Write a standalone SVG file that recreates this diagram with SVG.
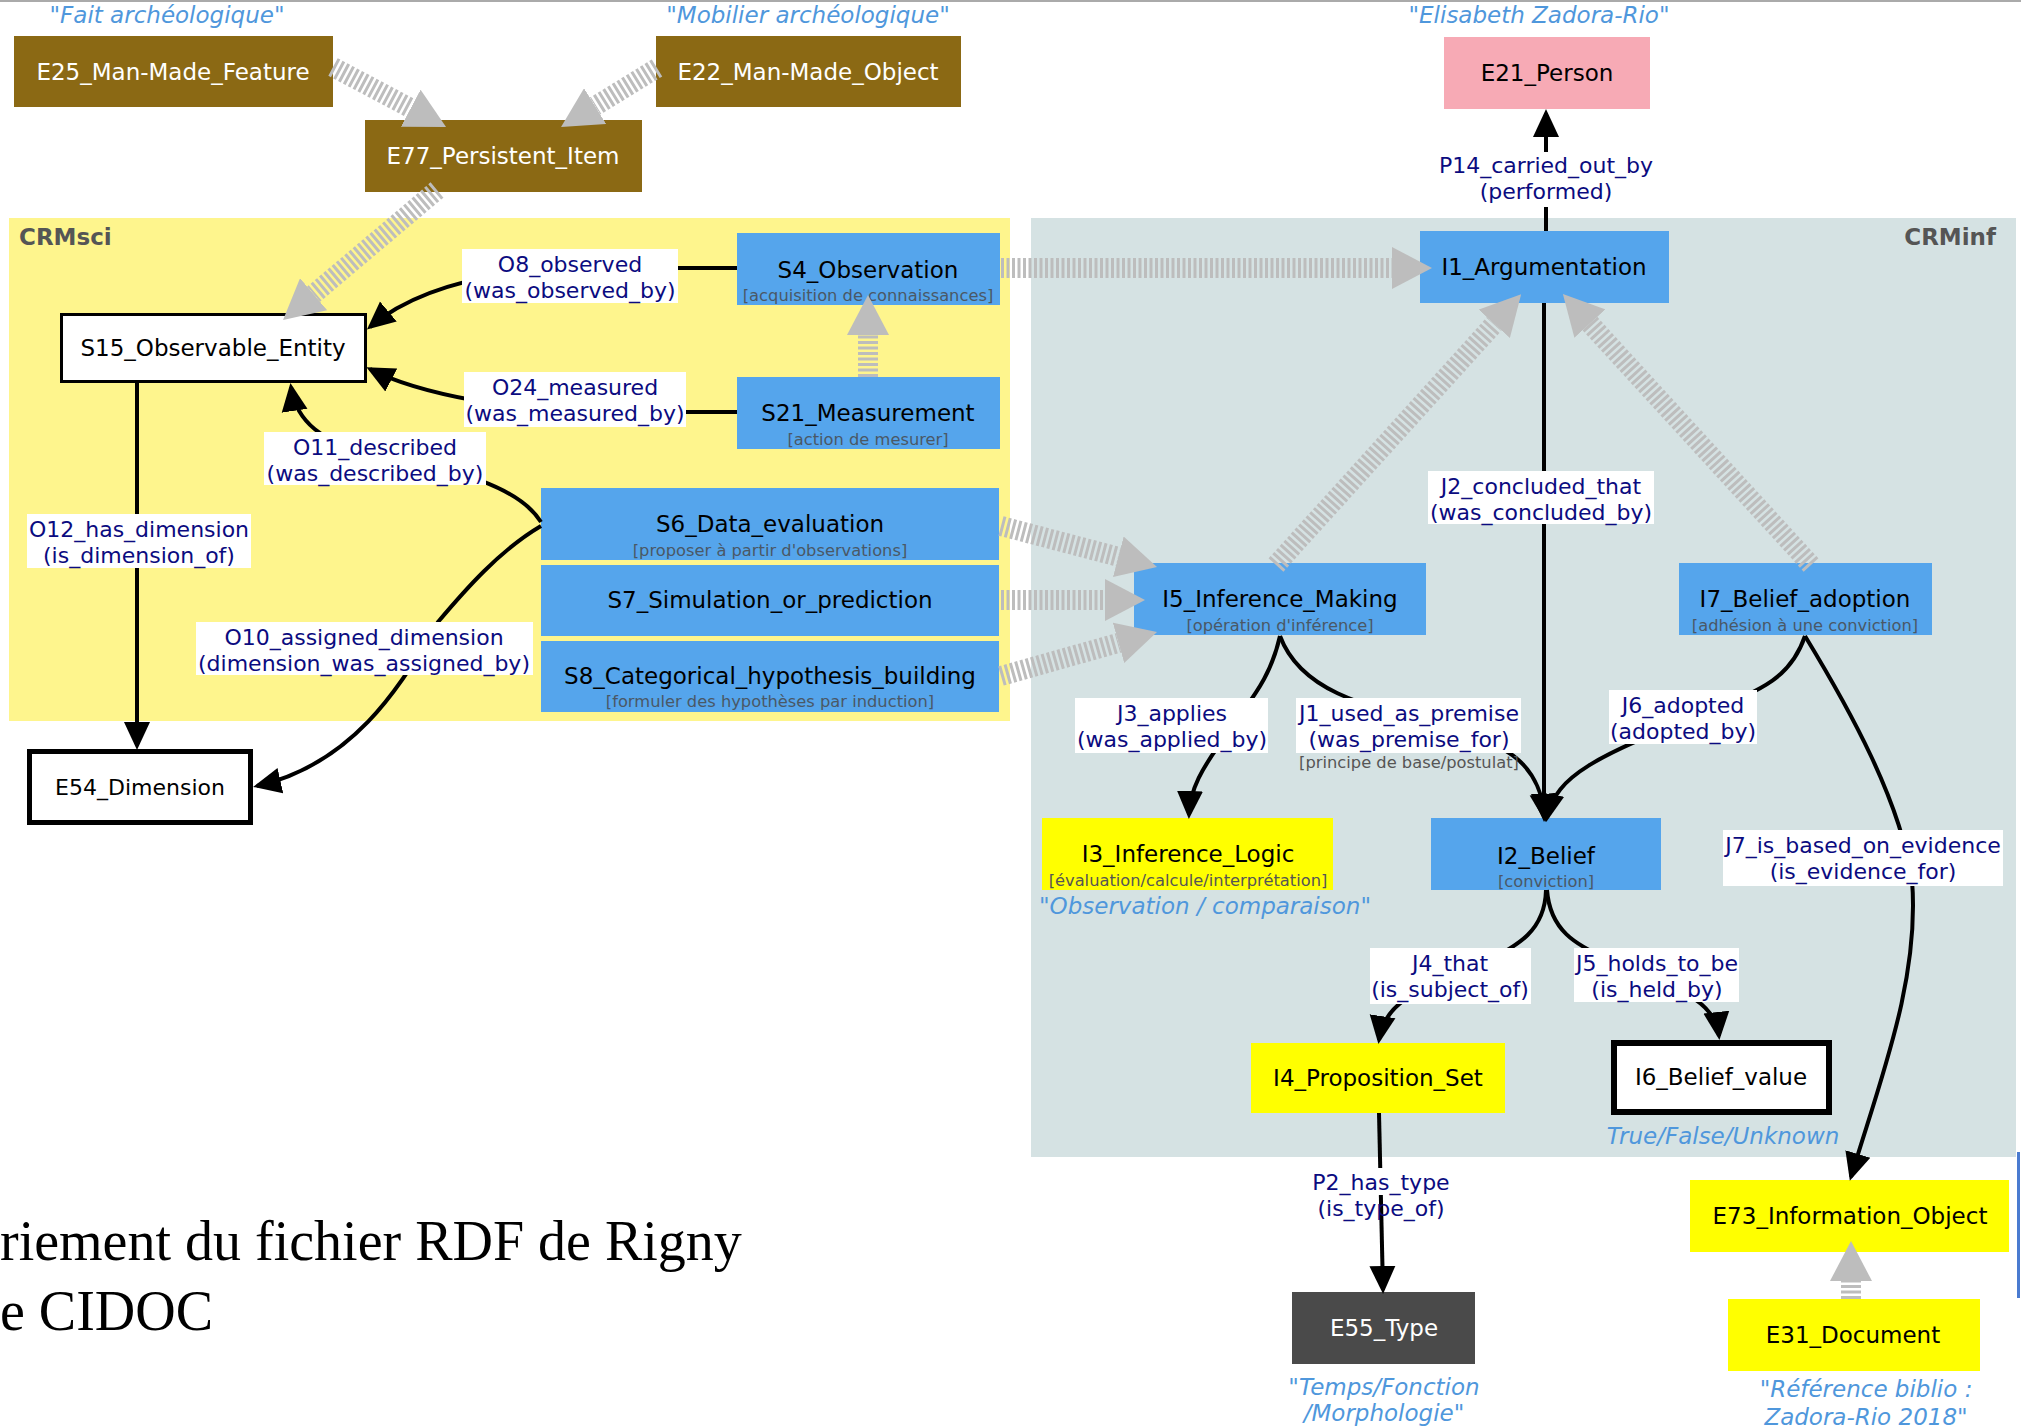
<svg xmlns="http://www.w3.org/2000/svg" width="2021" height="1428" viewBox="0 0 2021 1428">
<style>
text{font-family:"DejaVu Sans","Liberation Sans",sans-serif}
.nt{font-size:23px;text-anchor:middle;fill:#000}
.wt{font-size:23px;text-anchor:middle;fill:#fff}
.sub{font-size:16.3px;text-anchor:middle;fill:#4a5866}
.subg{font-size:16.3px;text-anchor:middle;fill:#555}
.lb{font-size:22px;text-anchor:middle;fill:#0b0b80}
.an{font-size:23px;font-style:italic;text-anchor:middle;fill:#4f97dc}
.cl{font-size:23px;font-weight:bold;fill:#555}
.lbg{fill:#fff}
.blue{fill:#55a5ec}
.brown{fill:#8b6914}
.yel{fill:#ffff00}
.e{fill:none;stroke:#000;stroke-width:4;marker-end:url(#ah)}
.g{fill:none;stroke:#bdbdbd;stroke-width:20;stroke-dasharray:3 2.5;marker-end:url(#gh)}
</style>
<defs>
<marker id="ah" markerUnits="userSpaceOnUse" markerWidth="28" markerHeight="28" viewBox="0 0 28 28" refX="24" refY="14" orient="auto"><path d="M0,1 L28,14 L0,27 z" fill="#000"/></marker>
<marker id="gh" markerUnits="userSpaceOnUse" markerWidth="40" markerHeight="42" viewBox="0 0 40 42" refX="0" refY="21" orient="auto"><path d="M0,0 L40,21 L0,42 z" fill="#bdbdbd"/></marker>
</defs>
<rect x="0" y="0" width="2021" height="1428" fill="#fff"/>
<rect x="0" y="0" width="2021" height="2" fill="#aaa"/>
<rect x="2017" y="1152" width="3" height="146" fill="#4a7bd0"/>

<g id="cluster-crmsci">
<rect x="9" y="218" width="1001" height="503" fill="#fef58d"/>
<text class="cl" x="19" y="245">CRMsci</text>
</g>
<g id="cluster-crminf">
<rect x="1031" y="218" width="985" height="939" fill="#d5e2e3"/>
<text class="cl" x="1996" y="245" text-anchor="end">CRMinf</text>
</g>

<g id="E25"><rect class="brown" x="14" y="36" width="319" height="71"/><text class="wt" x="173" y="80">E25_Man-Made_Feature</text></g>
<g id="E22"><rect class="brown" x="656" y="36" width="305" height="71"/><text class="wt" x="808" y="80">E22_Man-Made_Object</text></g>
<g id="E77"><rect class="brown" x="365" y="120" width="277" height="72"/><text class="wt" x="503" y="164">E77_Persistent_Item</text></g>
<g id="E21"><rect x="1444" y="37" width="206" height="72" fill="#f7aab5"/><text class="nt" x="1547" y="81">E21_Person</text></g>
<g id="S15"><rect x="61.5" y="314.5" width="304" height="67" fill="#fff" stroke="#000" stroke-width="3"/><text class="nt" x="213" y="356">S15_Observable_Entity</text></g>
<g id="S4"><rect class="blue" x="737" y="233" width="263" height="72"/><text class="nt" x="868" y="278">S4_Observation</text><text class="sub" x="868" y="301">[acquisition de connaissances]</text></g>
<g id="S21"><rect class="blue" x="737" y="377" width="263" height="72"/><text class="nt" x="868" y="421">S21_Measurement</text><text class="sub" x="868" y="445">[action de mesurer]</text></g>
<g id="S6"><rect class="blue" x="541" y="488" width="458" height="72"/><text class="nt" x="770" y="532">S6_Data_evaluation</text><text class="sub" x="770" y="556">[proposer à partir d'observations]</text></g>
<g id="S7"><rect class="blue" x="541" y="565" width="458" height="71"/><text class="nt" x="770" y="608">S7_Simulation_or_prediction</text></g>
<g id="S8"><rect class="blue" x="541" y="641" width="458" height="71"/><text class="nt" x="770" y="684">S8_Categorical_hypothesis_building</text><text class="sub" x="770" y="707">[formuler des hypothèses par induction]</text></g>
<g id="E54"><rect x="29.5" y="751.5" width="221" height="71" fill="#fff" stroke="#000" stroke-width="5"/><text class="nt" x="140" y="795" style="font-size:22px">E54_Dimension</text></g>
<g id="I1"><rect class="blue" x="1420" y="231" width="249" height="72"/><text class="nt" x="1544" y="275">I1_Argumentation</text></g>
<g id="I5"><rect class="blue" x="1134" y="563" width="292" height="72"/><text class="nt" x="1280" y="607">I5_Inference_Making</text><text class="sub" x="1280" y="631">[opération d'inférence]</text></g>
<g id="I7"><rect class="blue" x="1679" y="563" width="253" height="72"/><text class="nt" x="1805" y="607">I7_Belief_adoption</text><text class="sub" x="1805" y="631">[adhésion à une conviction]</text></g>
<g id="I3"><rect class="yel" x="1042" y="818" width="291" height="72"/><text class="nt" x="1188" y="862">I3_Inference_Logic</text><text class="subg" x="1188" y="886">[évaluation/calcule/interprétation]</text></g>
<g id="I2"><rect class="blue" x="1431" y="818" width="230" height="72"/><text class="nt" x="1546" y="864">I2_Belief</text><text class="sub" x="1546" y="887">[conviction]</text></g>
<g id="I4"><rect class="yel" x="1251" y="1043" width="254" height="70"/><text class="nt" x="1378" y="1086">I4_Proposition_Set</text></g>
<g id="I6"><rect x="1614" y="1043" width="215" height="69" fill="#fff" stroke="#000" stroke-width="6"/><text class="nt" x="1721" y="1085">I6_Belief_value</text></g>
<g id="E73"><rect class="yel" x="1690" y="1180" width="319" height="72"/><text class="nt" x="1850" y="1224">E73_Information_Object</text></g>
<g id="E31"><rect class="yel" x="1728" y="1299" width="252" height="72"/><text class="nt" x="1853" y="1343">E31_Document</text></g>
<g id="E55"><rect x="1292" y="1292" width="183" height="72" fill="#4a4a4a"/><text class="wt" x="1384" y="1336">E55_Type</text></g>

<g id="connectors">
<path class="g" d="M333,67 L410.7,108.2"/>
<path class="g" d="M657,68 L595.1,106.1"/>
<path class="g" d="M437,190 L313.6,294.2"/>
<path class="g" d="M1001,268 L1392,268"/>
<path class="g" d="M868,377 L868,335"/>
<path class="g" d="M1001,526 L1118.3,556.8"/>
<path class="g" d="M1001,600 L1105,600"/>
<path class="g" d="M1001,676 L1118.5,642.8"/>
<path class="g" d="M1276,565 L1494.3,323.8"/>
<path class="g" d="M1811,565 L1589.9,323.6"/>
<path class="g" d="M1851,1299 L1851,1281"/>

<path class="e" d="M1546,231 L1546,113"/>
<path class="e" d="M737,268 L600,268 C500,268 420,285 370,327"/>
<path class="e" d="M737,412 L600,412 C520,412 420,395 370,369"/>
<path class="e" d="M541,522 C520,488 460,470 380,455 C320,444 296,420 291,387"/>
<path class="e" d="M541,526 C500,550 465,590 438,622 C400,690 350,765 257,786"/>
<path class="e" d="M137,383 L137,746"/>
<path class="e" d="M1544,303 L1544,818"/>
<path class="e" d="M1280,636 C1270,680 1250,700 1230,730 C1200,770 1190,790 1189,815"/>
<path class="e" d="M1280,636 C1300,690 1360,705 1440,725 C1515,745 1540,768 1545,818"/>
<path class="e" d="M1805,636 C1790,680 1760,690 1700,715 C1600,755 1555,775 1547,818"/>
<path class="e" d="M1805,636 C1850,710 1900,800 1912,880 C1920,980 1880,1080 1851,1177"/>
<path class="e" d="M1546,890 C1545,930 1520,945 1480,965 C1420,990 1385,1000 1379,1040"/>
<path class="e" d="M1547,890 C1550,930 1575,945 1610,960 C1680,990 1715,1000 1719,1036"/>
<path class="e" d="M1379,1113 L1383,1290"/>

<g id="lbl-P14"><rect class="lbg" x="1436" y="152" width="220" height="55"/><text class="lb" x="1546" y="173">P14_carried_out_by</text><text class="lb" x="1546" y="199">(performed)</text></g>
<g id="lbl-O8"><rect class="lbg" x="462" y="249" width="216" height="54"/><text class="lb" x="570" y="272">O8_observed</text><text class="lb" x="570" y="298">(was_observed_by)</text></g>
<g id="lbl-O24"><rect class="lbg" x="464" y="372" width="222" height="55"/><text class="lb" x="575" y="395">O24_measured</text><text class="lb" x="575" y="421">(was_measured_by)</text></g>
<g id="lbl-O11"><rect class="lbg" x="264" y="432" width="222" height="53"/><text class="lb" x="375" y="455">O11_described</text><text class="lb" x="375" y="481">(was_described_by)</text></g>
<g id="lbl-O12"><rect class="lbg" x="27" y="514" width="224" height="54"/><text class="lb" x="139" y="537">O12_has_dimension</text><text class="lb" x="139" y="563">(is_dimension_of)</text></g>
<g id="lbl-O10"><rect class="lbg" x="196" y="622" width="337" height="53"/><text class="lb" x="364" y="645">O10_assigned_dimension</text><text class="lb" x="364" y="671">(dimension_was_assigned_by)</text></g>
<g id="lbl-J2"><rect class="lbg" x="1428" y="471" width="226" height="53"/><text class="lb" x="1541" y="494">J2_concluded_that</text><text class="lb" x="1541" y="520">(was_concluded_by)</text></g>
<g id="lbl-J3"><rect class="lbg" x="1075" y="698" width="193" height="55"/><text class="lb" x="1172" y="721">J3_applies</text><text class="lb" x="1172" y="747">(was_applied_by)</text></g>
<g id="lbl-J1"><rect class="lbg" x="1296" y="698" width="225" height="55"/><text class="lb" x="1409" y="721">J1_used_as_premise</text><text class="lb" x="1409" y="747">(was_premise_for)</text><text class="subg" x="1409" y="768">[principe de base/postulat]</text></g>
<g id="lbl-J6"><rect class="lbg" x="1609" y="690" width="148" height="54"/><text class="lb" x="1683" y="713">J6_adopted</text><text class="lb" x="1683" y="739">(adopted_by)</text></g>
<g id="lbl-J7"><rect class="lbg" x="1723" y="830" width="280" height="56"/><text class="lb" x="1863" y="853">J7_is_based_on_evidence</text><text class="lb" x="1863" y="879">(is_evidence_for)</text></g>
<g id="lbl-J4"><rect class="lbg" x="1370" y="948" width="161" height="56"/><text class="lb" x="1450" y="971">J4_that</text><text class="lb" x="1450" y="997">(is_subject_of)</text></g>
<g id="lbl-J5"><rect class="lbg" x="1574" y="948" width="165" height="54"/><text class="lb" x="1657" y="971">J5_holds_to_be</text><text class="lb" x="1657" y="997">(is_held_by)</text></g>
<g id="lbl-P2"><rect class="lbg" x="1312" y="1168" width="140" height="27"/><text class="lb" x="1381" y="1190">P2_has_type</text><text class="lb" x="1381" y="1216">(is_type_of)</text></g>
</g>

<g id="annotations">
<text class="an" x="167" y="23">"Fait archéologique"</text>
<text class="an" x="808" y="23">"Mobilier archéologique"</text>
<text class="an" x="1539" y="23">"Elisabeth Zadora-Rio"</text>
<text class="an" x="1205" y="914">"Observation / comparaison"</text>
<text class="an" x="1723" y="1144">True/False/Unknown</text>
<text class="an" x="1384" y="1395">"Temps/Fonction</text>
<text class="an" x="1384" y="1421">/Morphologie"</text>
<text class="an" x="1866" y="1397">"Référence biblio :</text>
<text class="an" x="1866" y="1425">Zadora-Rio 2018"</text>
</g>

<g id="footer" fill="#000">
<text x="0" y="1260" style="font-family:'Liberation Serif',serif;font-size:56px">riement du fichier RDF de Rigny</text>
<text x="0" y="1330" style="font-family:'Liberation Serif',serif;font-size:56px">e CIDOC</text>
</g>
</svg>
